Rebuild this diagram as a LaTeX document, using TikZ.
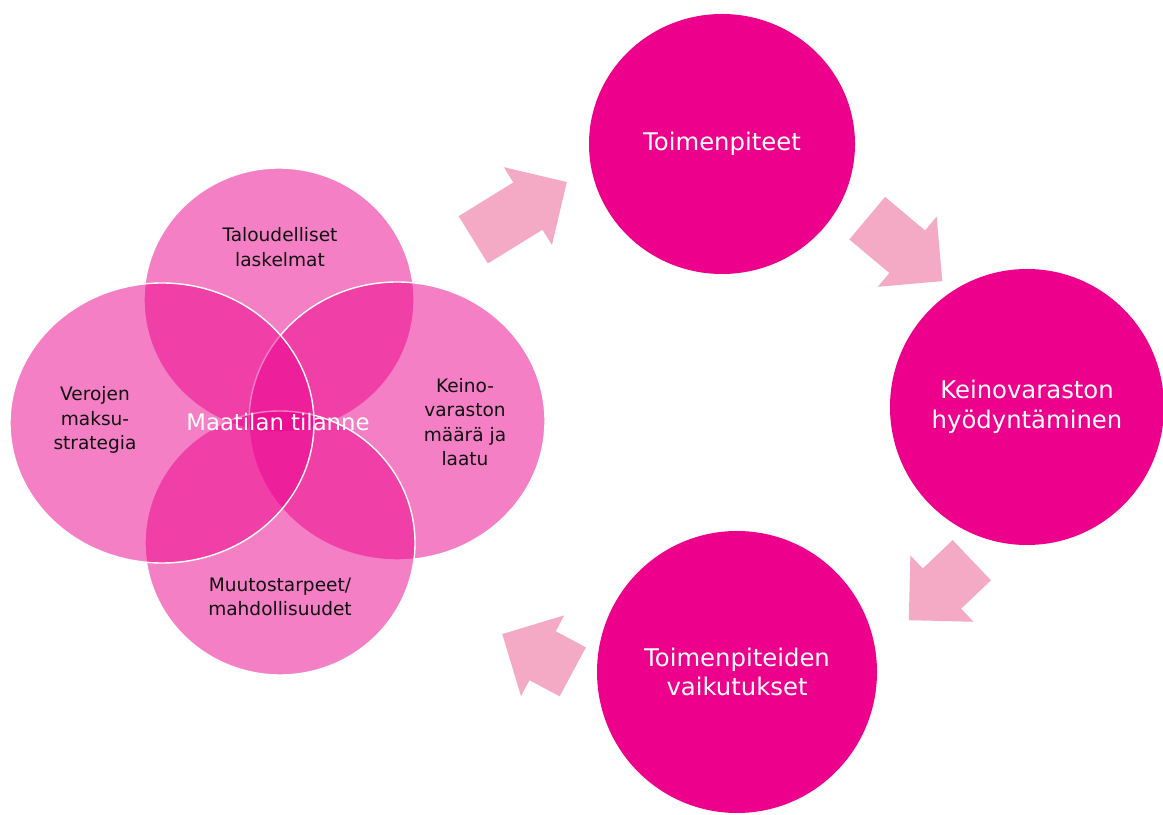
\documentclass[tikz,border=0pt]{standalone}
\usepackage{fontspec}
\setmainfont{DejaVu Sans}
\usetikzlibrary{shapes.geometric,shapes.arrows}

\definecolor{Magenta}{HTML}{EC008C}
\definecolor{Rose}{HTML}{F4A9C4}
\definecolor{Ink}{HTML}{111111}

\tikzstyle{Venn} = [ellipse, 
                    draw=white, 
                    line width=1pt, 
                    fill=Magenta, 
                    fill opacity=0.5, 
                    inner sep=0]
\tikzstyle{Stage} = [ellipse, 
                     fill=Magenta, 
                     text=white, 
                     align=center, 
                     inner sep=0, 
                     font=\fontsize{17.3}{21}\selectfont]
\tikzstyle{Label} = [text=Ink, 
                     align=center, 
                     font=\fontsize{13.2}{17.5}\selectfont]
\tikzstyle{Flow} = [single arrow, 
                    fill=Rose, 
                    anchor=tail, 
                    inner xsep=0, 
                    inner ysep=0.6875cm, 
                    minimum width=0, 
                    single arrow head extend=0.45cm]

\begin{document}
\begin{tikzpicture}

	\useasboundingbox (0, 0) rectangle (29.075, 20.35);

	% Venn circles
	\node (talous) at (6.975, 12.85) [Venn, minimum width=6.75cm, minimum height=6.6cm]{};
	\node (varasto) at (9.925, 9.825) [Venn, minimum width=7.4cm, minimum height=6.95cm]{};
	\node (muutos) at (7.0, 6.775) [Venn, minimum width=6.75cm, minimum height=6.6cm]{};
	\node (verot) at (4.05, 9.775) [Venn, minimum width=7.6cm, minimum height=7.0cm]{};

	\node (talousText) at (7.0, 14.175) [Label]{Taloudelliset \\ laskelmat};
	\node (verotText) at (2.375, 9.85) [Label]{Verojen \\ maksu- \\ strategia};
	\node (varastoText) at (11.625, 9.8) [Label]{Keino- \\ varaston \\ määrä ja \\ laatu};
	\node (muutosText) at (7.0, 5.425) [Label]{Muutostarpeet/ \\ mahdollisuudet};
	\node (tilanne) at (6.95, 9.8) [text=white, font=\fontsize{16.2}{19}\selectfont]{Maatilan tilanne};

	% Cycle circles
	\node (toimet) at (18.05, 16.75) [Stage, minimum width=6.65cm, minimum height=6.5cm]{Toimenpiteet};
	\node (hyoty) at (25.675, 10.175) [Stage, minimum width=6.85cm, minimum height=6.9cm]{Keinovaraston \\ hyödyntäminen};
	\node (vaikutus) at (18.425, 3.55) [Stage, minimum width=7.0cm, minimum height=7.05cm]{Toimenpiteiden \\ vaikutukset};

	% Block arrows
	\node (arrA) at (11.825, 14.35) [Flow, rotate=31.7, minimum height=2.75cm]{};
	\node (arrB) at (21.675, 14.9) [Flow, rotate=-40, minimum height=2.45cm]{};
	\node (arrC) at (24.3, 6.35) [Flow, rotate=223.6, minimum height=2.175cm]{};
	\node (arrD) at (14.325, 3.55) [Flow, rotate=151.8, minimum height=2.0cm]{};

\end{tikzpicture}
\end{document}
